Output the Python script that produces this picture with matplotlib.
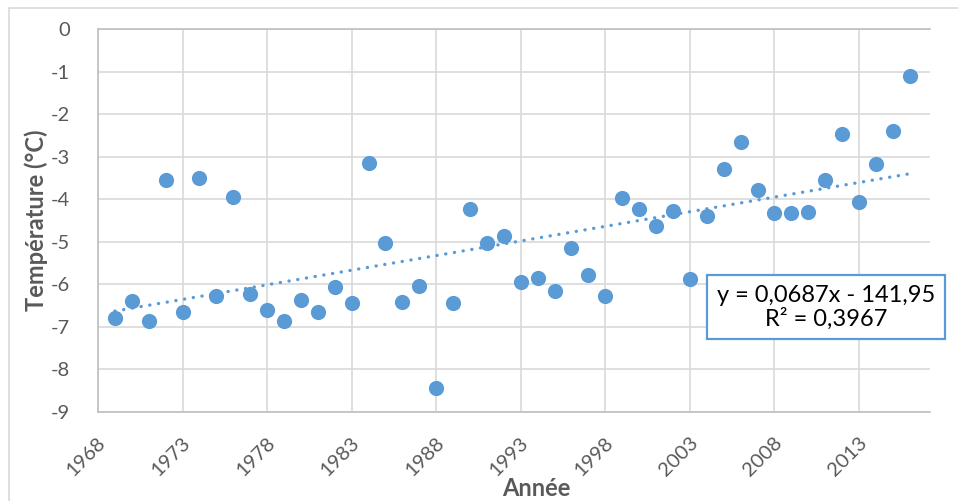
import matplotlib
matplotlib.use("Agg")
import matplotlib.pyplot as plt
from matplotlib.patches import Rectangle
from matplotlib.transforms import ScaledTranslation
import numpy as np

plt.rcParams['font.family'] = ['Lato', 'DejaVu Sans']

# annual temperatures
years = list(range(1969, 2017))
temps = [-6.80, -6.39, -6.85, -3.55, -6.65, -3.49, -6.27, -3.94, -6.22, -6.61,
         -6.86, -6.36, -6.64, -6.06, -6.44, -3.14, -5.04, -6.41, -6.05, -8.44,
         -6.44, -4.23, -5.04, -4.86, -5.94, -5.86, -6.15, -5.15, -5.77, -6.27,
         -3.97, -4.22, -4.62, -4.28, -5.88, -4.39, -3.30, -2.66, -3.78, -4.33,
         -4.33, -4.29, -3.55, -2.47, -4.06, -3.17, -2.39, -1.11]
xticks = list(range(1968, 2014, 5))
yticks = list(range(-9, 1))
eq_text = "y = 0,0687x - 141,95\nR² = 0,3967"

blue = "#5b9bd5"
grey_txt = "#595959"

fig = plt.figure(figsize=(9.58, 5.01), dpi=100)
ax = fig.add_axes([98 / 958, 1 - 412 / 501, (930 - 98) / 958, (412 - 29) / 501])

# light chart-area border
fig.patches.append(Rectangle((9 / 958, -0.1), 1.2, 1 - 8 / 501 + 0.1, transform=fig.transFigure,
                             fill=False, edgecolor="#d9d9d9", linewidth=1.2))

ax.scatter(years, temps, s=120, color=blue, zorder=3, linewidths=0)

coef = np.polyfit(years, temps, 1)
xs = np.array([years[0], years[-1]])
ax.plot(xs, np.polyval(coef, xs), color=blue, linewidth=2.4,
        linestyle=(0, (0.05, 2.6)), dash_capstyle="round", zorder=2)

ax.set_xlim(1968, 2017.2)
ax.set_ylim(-9, 0)
ax.set_xticks(xticks)
ax.set_yticks(yticks)
ax.set_yticklabels([str(v) for v in yticks])
ax.grid(True, color="#d9d9d9", linewidth=1.2, zorder=0)
ax.set_axisbelow(True)
for side in ["left", "bottom", "top"]:
    ax.spines[side].set_color("#bfbfbf")
    ax.spines[side].set_linewidth(1.2)
ax.spines["right"].set_visible(False)
ax.tick_params(length=0, colors=grey_txt, labelsize=14.5)
ax.tick_params(axis="y", pad=20)
ax.tick_params(axis="x", pad=20)
shift = ScaledTranslation(5 / 100, 0, fig.dpi_scale_trans)
for lab in ax.get_xticklabels():
    lab.set_rotation(45)
    lab.set_ha("right")
    lab.set_va("center")
    lab.set_rotation_mode("anchor")
    lab.set_transform(lab.get_transform() + shift)

fig.text(536 / 958, 1 - 488 / 501, "Année", ha="center", va="center",
         fontsize=17, fontweight="bold", color=grey_txt)
fig.text(36 / 958, 1 - 220 / 501, "Température (°C)", ha="center", va="center",
         rotation=90, fontsize=17, fontweight="bold", color=grey_txt)

fig.text(826 / 958, 1 - 307 / 501, eq_text, ha="center", va="center",
         fontsize=17, color="black", linespacing=1.1,
         bbox=dict(boxstyle="square,pad=0.4", facecolor="white",
                   edgecolor=blue, linewidth=1.6))

fig.savefig("out.png", dpi=100)
